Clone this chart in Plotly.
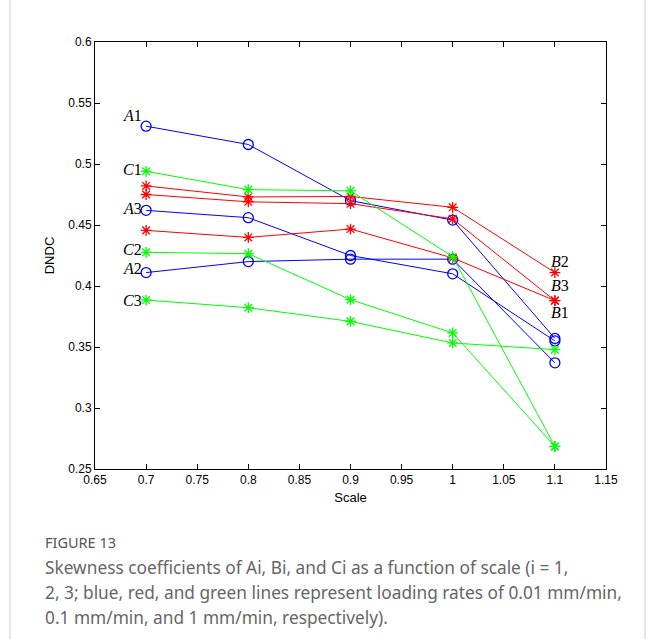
import plotly.graph_objects as go

scale = [0.7, 0.8, 0.9, 1.0, 1.1]

A1 = [0.531, 0.516, 0.470, 0.454, 0.357]
A2 = [0.411, 0.420, 0.422, 0.422, 0.337]
A3 = [0.462, 0.456, 0.425, 0.410, 0.355]

B1 = [0.475, 0.469, 0.4675, 0.455, 0.388]
B2 = [0.482, 0.473, 0.4734, 0.4645, 0.411]
B3 = [0.4456, 0.4398, 0.4467, 0.423, 0.388]

C1 = [0.494, 0.479, 0.478, 0.424, 0.2685]
C2 = [0.4276, 0.4265, 0.3888, 0.3615, 0.2685]
C3 = [0.3885, 0.3822, 0.371, 0.3533, 0.3478]

x_ticks = [0.65, 0.7, 0.75, 0.8, 0.85, 0.9, 0.95, 1.0, 1.05, 1.1, 1.15]
x_tick_labels = ["0.65", "0.7", "0.75", "0.8", "0.85", "0.9", "0.95", "1", "1.05", "1.1", "1.15"]
y_ticks = [0.25, 0.3, 0.35, 0.4, 0.45, 0.5, 0.55, 0.6]
y_tick_labels = ["0.25", "0.3", "0.35", "0.4", "0.45", "0.5", "0.55", "0.6"]

caption_title = "FIGURE 13"
caption_lines = [
    "Skewness coefficients of Ai, Bi, and Ci as a function of scale (i = 1,",
    "2, 3; blue, red, and green lines represent loading rates of 0.01 mm/min,",
    "0.1 mm/min, and 1 mm/min, respectively).",
]

BLUE, RED, GREEN = "#0000FF", "#FF0000", "#00FF00"

fig = go.Figure()

def add(name, ys, color, symbol, size):
    fig.add_trace(go.Scatter(
        x=scale, y=ys, mode="lines+markers", name=name,
        line=dict(color=color, width=1),
        marker=dict(symbol=symbol, size=size, color=color,
                    line=dict(color=color, width=1.3)),
        showlegend=False,
    ))

for n, s in (("A1", A1), ("A2", A2), ("A3", A3)):
    add(n, s, BLUE, "circle-open", 10)
for n, s in (("B1", B1), ("B2", B2), ("B3", B3)):
    add(n, s, RED, "asterisk-open", 9)
for n, s in (("C1", C1), ("C2", C2), ("C3", C3)):
    add(n, s, GREEN, "asterisk-open", 9)

lab_font = dict(family="Liberation Serif", size=16, color="black")

def lab(text, x, y, xanchor, xshift, yshift):
    fig.add_annotation(x=x, y=y, text=text, showarrow=False, xanchor=xanchor,
                       yanchor="middle", xshift=xshift, yshift=yshift, font=lab_font,
                       borderpad=0)

def t(letter, num):
    return f"<i>{letter}</i>{num}"

lab(t("A", 1), scale[0], A1[0], "right", -3, 11)
lab(t("C", 1), scale[0], C1[0], "right", -3, 2)
lab(t("A", 3), scale[0], A3[0], "right", -3, 2)
lab(t("C", 2), scale[0], C2[0], "right", -3, 3)
lab(t("A", 2), scale[0], A2[0], "right", -3, 4)
lab(t("C", 3), scale[0], C3[0], "right", -3, 0)
lab(t("B", 2), scale[-1], B2[-1], "left", -5, 11)
lab(t("B", 3), scale[-1], B3[-1], "left", -5, 15)
lab(t("B", 1), scale[-1], B1[-1], "left", -5, -12)

tick_font = dict(family="Liberation Sans", size=12, color="black")
title_font = dict(family="Liberation Sans", size=13, color="black")
axis_common = dict(
    showline=True, linecolor="black", linewidth=1, mirror="ticks",
    ticks="inside", ticklen=5, tickcolor="black", tickwidth=1,
    showgrid=False, zeroline=False, tickfont=tick_font,
)

fig.update_xaxes(range=[0.65, 1.15], tickvals=x_ticks, ticktext=x_tick_labels,
                 title=dict(text="Scale", font=title_font, standoff=6), **axis_common)
fig.update_yaxes(range=[0.25, 0.6], tickvals=y_ticks, ticktext=y_tick_labels,
                 title=dict(text="DNDC", font=title_font, standoff=10), **axis_common)

cap_x = (43 - 95) / 511
cap_font_title = dict(family="Noto Sans", size=14.5, color="#555555")
cap_font = dict(family="Noto Sans", size=17.3, color="#666666")
fig.add_annotation(xref="paper", yref="paper", x=cap_x, y=-(542 - 469) / 427,
                   text=caption_title, showarrow=False, xanchor="left", yanchor="middle",
                   font=cap_font_title)
for i, line in enumerate(caption_lines):
    fig.add_annotation(xref="paper", yref="paper", x=cap_x,
                       y=-(567 + 25 * i - 469) / 427, text=line, showarrow=False,
                       xanchor="left", yanchor="middle", font=cap_font)

# light frame around the figure card
fig.add_shape(type="line", xref="paper", yref="paper", x0=-85/511, x1=-85/511,
              y0=-170/427, y1=469/427, line=dict(color="#cccccc", width=1))
fig.add_shape(type="line", xref="paper", yref="paper", x0=(645-95)/511, x1=(645-95)/511,
              y0=-170/427, y1=469/427, line=dict(color="#cccccc", width=1))

fig.update_layout(
    width=654, height=639,
    margin=dict(l=95, r=48, t=42, b=170),
    paper_bgcolor="white", plot_bgcolor="white",
)

fig.write_html("out.html")
